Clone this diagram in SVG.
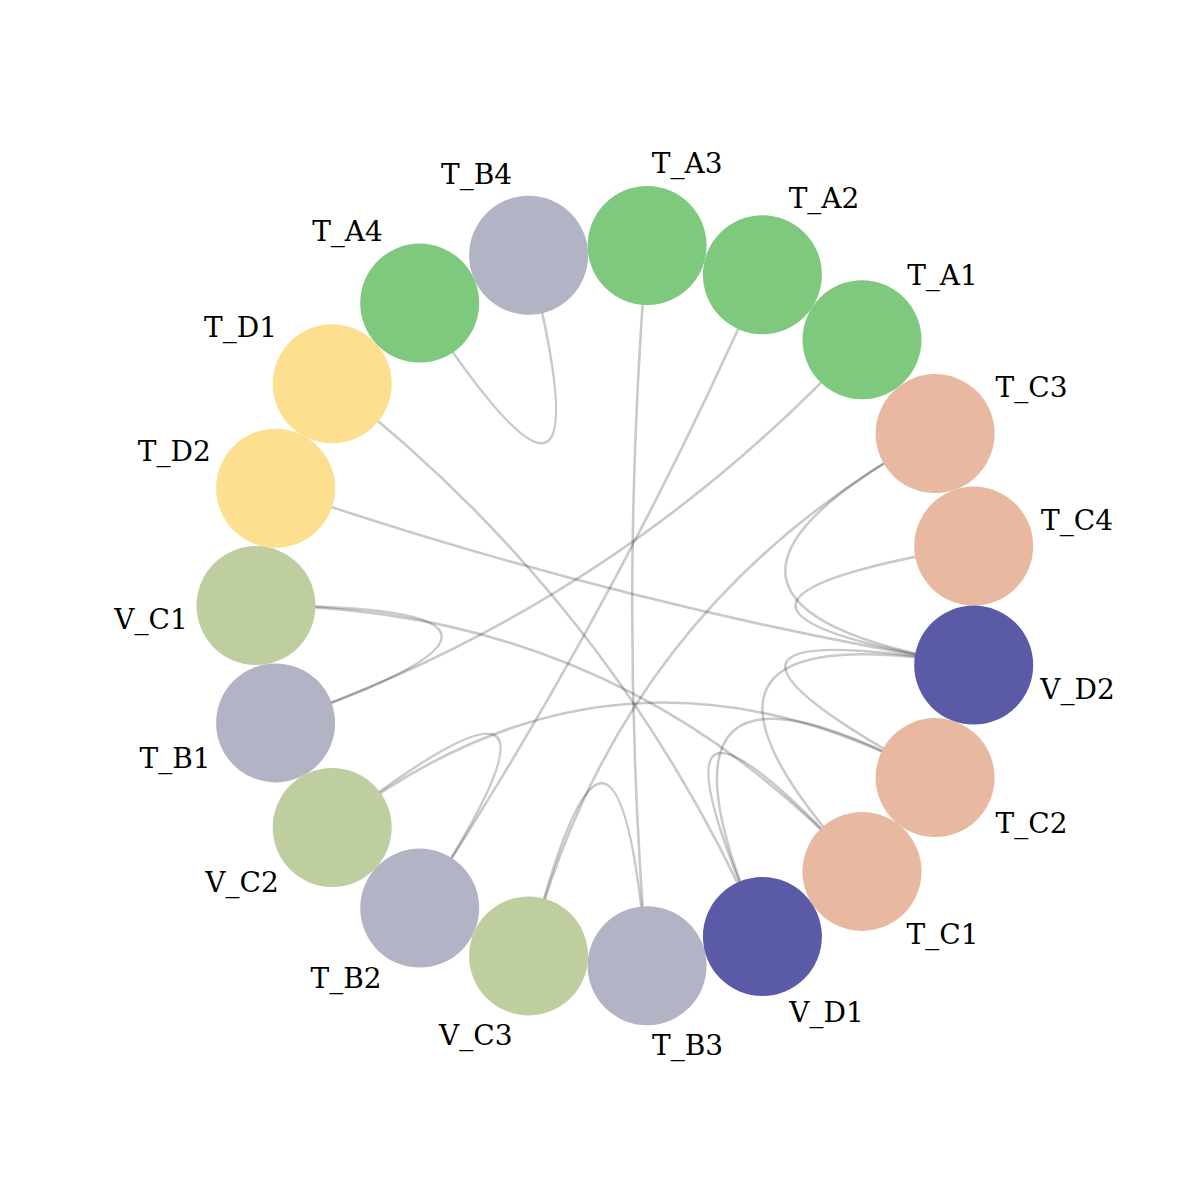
<svg xmlns="http://www.w3.org/2000/svg" width="1200" height="1200" viewBox="0 0 1200 1200">
<style>
.edge{fill:none;stroke:#000;stroke-opacity:0.21;stroke-width:2.6}
.lbl{font-family:"DejaVu Serif","Liberation Serif",serif;font-size:28px;fill:#000;text-anchor:middle}
.ta{fill:#7fc97f}.tb{fill:#b3b3c6}.tc{fill:#e8b9a0}.td{fill:#fedf8f}.vc{fill:#bece9f}.vd{fill:#5a5aa6}
</style>
<rect width="1200" height="1200" fill="#fff"/>
<g id="edges">
<path class="edge" d="M419.7 303.1 Q617.3 605.6 528.6 255.3"/>
<path class="edge" d="M647.1 245.5 Q617.3 605.6 647.1 965.7"/>
<path class="edge" d="M762.4 274.7 Q617.3 605.6 419.7 908.1"/>
<path class="edge" d="M862.0 339.8 Q617.3 605.6 275.6 722.9"/>
<path class="edge" d="M332.2 383.7 Q617.3 605.6 762.4 936.5"/>
<path class="edge" d="M275.6 488.3 Q617.3 605.6 973.7 665.1"/>
<path class="edge" d="M935.1 433.6 Q617.3 605.6 528.6 955.9"/>
<path class="edge" d="M935.1 433.6 Q617.3 605.6 973.7 665.1"/>
<path class="edge" d="M973.7 546.1 Q617.3 605.6 973.7 665.1"/>
<path class="edge" d="M935.1 777.6 Q617.3 605.6 973.7 665.1"/>
<path class="edge" d="M862.0 871.4 Q617.3 605.6 973.7 665.1"/>
<path class="edge" d="M935.1 777.6 Q617.3 605.6 332.2 827.5"/>
<path class="edge" d="M862.0 871.4 Q617.3 605.6 256.0 605.6"/>
<path class="edge" d="M935.1 777.6 Q617.3 605.6 762.4 936.5"/>
<path class="edge" d="M862.0 871.4 Q617.3 605.6 762.4 936.5"/>
<path class="edge" d="M256.0 605.6 Q617.3 605.6 275.6 722.9"/>
<path class="edge" d="M332.2 827.5 Q617.3 605.6 419.7 908.1"/>
<path class="edge" d="M528.6 955.9 Q617.3 605.6 647.1 965.7"/>
</g>
<g id="T_C4"><circle class="tc" cx="973.7" cy="546.1" r="59.5"/><text class="lbl" x="1077" y="529.5">T_C4</text></g>
<g id="T_C3"><circle class="tc" cx="935.1" cy="433.6" r="59.5"/><text class="lbl" x="1031.5" y="397.3">T_C3</text></g>
<g id="T_A1"><circle class="ta" cx="862.0" cy="339.8" r="59.5"/><text class="lbl" x="942.5" y="285.3">T_A1</text></g>
<g id="T_A2"><circle class="ta" cx="762.4" cy="274.7" r="59.5"/><text class="lbl" x="824" y="208.3">T_A2</text></g>
<g id="T_A3"><circle class="ta" cx="647.1" cy="245.5" r="59.5"/><text class="lbl" x="687.2" y="172.5">T_A3</text></g>
<g id="T_B4"><circle class="tb" cx="528.6" cy="255.3" r="59.5"/><text class="lbl" x="476.5" y="184.3">T_B4</text></g>
<g id="T_A4"><circle class="ta" cx="419.7" cy="303.1" r="59.5"/><text class="lbl" x="347.5" y="241.3">T_A4</text></g>
<g id="T_D1"><circle class="td" cx="332.2" cy="383.7" r="59.5"/><text class="lbl" x="240.5" y="337.3">T_D1</text></g>
<g id="T_D2"><circle class="td" cx="275.6" cy="488.3" r="59.5"/><text class="lbl" x="174.3" y="460.6">T_D2</text></g>
<g id="V_C1"><circle class="vc" cx="256.0" cy="605.6" r="59.5"/><text class="lbl" x="151" y="628.6">V_C1</text></g>
<g id="T_B1"><circle class="tb" cx="275.6" cy="722.9" r="59.5"/><text class="lbl" x="175" y="768.3">T_B1</text></g>
<g id="V_C2"><circle class="vc" cx="332.2" cy="827.5" r="59.5"/><text class="lbl" x="242" y="892.3">V_C2</text></g>
<g id="T_B2"><circle class="tb" cx="419.7" cy="908.1" r="59.5"/><text class="lbl" x="346" y="988.3">T_B2</text></g>
<g id="V_C3"><circle class="vc" cx="528.6" cy="955.9" r="59.5"/><text class="lbl" x="475.8" y="1044.6">V_C3</text></g>
<g id="T_B3"><circle class="tb" cx="647.1" cy="965.7" r="59.5"/><text class="lbl" x="687.5" y="1054.6">T_B3</text></g>
<g id="V_D1"><circle class="vd" cx="762.4" cy="936.5" r="59.5"/><text class="lbl" x="826.5" y="1022">V_D1</text></g>
<g id="T_C1"><circle class="tc" cx="862.0" cy="871.4" r="59.5"/><text class="lbl" x="942.5" y="944.3">T_C1</text></g>
<g id="T_C2"><circle class="tc" cx="935.1" cy="777.6" r="59.5"/><text class="lbl" x="1031.5" y="833.3">T_C2</text></g>
<g id="V_D2"><circle class="vd" cx="973.7" cy="665.1" r="59.5"/><text class="lbl" x="1077.5" y="698.6">V_D2</text></g>
</svg>
